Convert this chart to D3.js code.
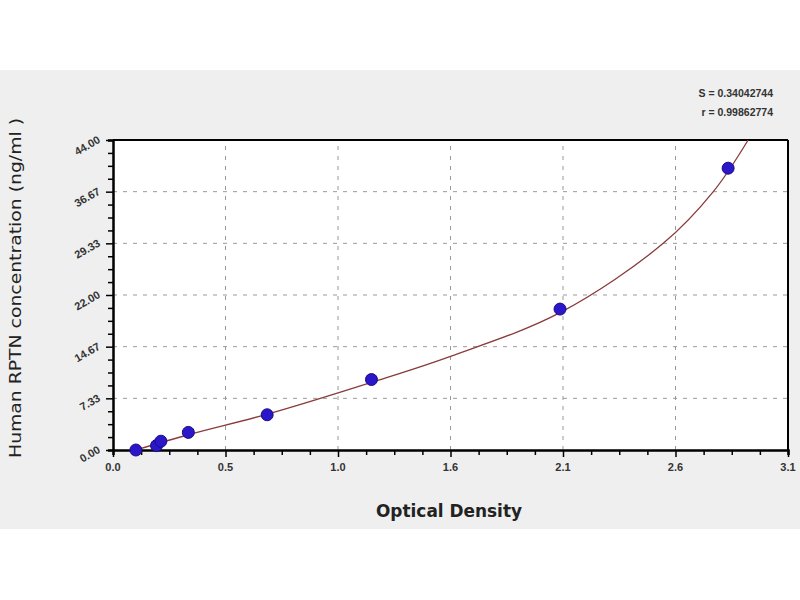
<!DOCTYPE html>
<html><head><meta charset="utf-8">
<script src="https://cdn.jsdelivr.net/npm/d3@7"></script>
<style>body{margin:0;background:#fff}svg{display:block}</style>
</head><body>
<script>
// Data
const odValues = [0.105, 0.20, 0.22, 0.346, 0.708, 1.187, 2.053, 2.825];
const concValues = [0, 0.625, 1.25, 2.5, 5, 10, 20, 40];
const curveOD = [0.105, 0.35, 0.71, 1.187, 1.55, 2.053, 2.527, 2.757, 2.917];
const curveConc = [0, 2.2, 5.1, 9.6, 13.3, 19.5, 29.33, 36.67, 44];
const xTickLabels = ["0.0","0.5","1.0","1.6","2.1","2.6","3.1"];
const yTickLabels = ["0.00","7.33","14.67","22.00","29.33","36.67","44.00"];
const statLines = ["S = 0.34042744", "r = 0.99862774"];

const W = 800, H = 600;
const m = {left:113, right:12, top:140, bottom:150};
const svg = d3.select("body").append("svg").attr("width",W).attr("height",H);
svg.append("rect").attr("x",0).attr("y",70).attr("width",W).attr("height",459).attr("fill","#efefef");

const x = d3.scaleLinear().domain([0,3.1]).range([m.left, W-m.right]);
const y = d3.scaleLinear().domain([0,44]).range([H-m.bottom, m.top]);

const xMajor = d3.range(7).map(i => i*3.1/6);
const yMajor = d3.range(7).map(i => i*44/6);
const xMinor = d3.range(25).map(i => i*3.1/24);
const yMinor = d3.range(25).map(i => i*44/24);

svg.append("rect").attr("x",x(0)).attr("y",y(44)).attr("width",x(3.1)-x(0)).attr("height",y(0)-y(44)).attr("fill","#fff");

// grid
const g = svg.append("g");
g.selectAll(".gx").data(xMajor.slice(1,-1)).join("line")
 .attr("x1",d=>x(d)).attr("x2",d=>x(d)).attr("y1",y(0)).attr("y2",y(44))
 .attr("stroke","#999").attr("stroke-width",1).attr("stroke-dasharray","4,6");
g.selectAll(".gy").data(yMajor.slice(1,-1)).join("line")
 .attr("y1",d=>y(d)).attr("y2",d=>y(d)).attr("x1",x(0)).attr("x2",x(3.1))
 .attr("stroke","#999").attr("stroke-width",1).attr("stroke-dasharray","4,6");

// frame top & right
svg.append("line").attr("x1",x(0)).attr("x2",x(3.1)).attr("y1",y(44)).attr("y2",y(44)).attr("stroke","#000").attr("stroke-width",2);
svg.append("line").attr("x1",x(3.1)).attr("x2",x(3.1)).attr("y1",y(44)).attr("y2",y(0)).attr("stroke","#000").attr("stroke-width",2);

// axes
const xAxis = svg.append("g").attr("transform",`translate(0,${y(0)})`)
 .call(d3.axisBottom(x).tickValues(xMinor).tickSize(5).tickFormat(""));
xAxis.select(".domain").attr("stroke-width",2.5);
xAxis.selectAll(".tick line").attr("stroke-width",1.5).attr("y2",d=>xMajor.some(v=>Math.abs(v-d)<1e-9)?7:5);
const xLab = svg.append("g");
xLab.selectAll("text").data(xMajor).join("text")
 .attr("x",d=>x(d)).attr("y",y(0)+21).attr("text-anchor","middle")
 .attr("font-family","Liberation Sans, Arial, sans-serif").attr("font-size",11).attr("font-weight","bold").attr("fill","#333")
 .text((d,i)=>xTickLabels[i]);

const yAxis = svg.append("g").attr("transform",`translate(${x(0)},0)`)
 .call(d3.axisLeft(y).tickValues(yMinor).tickSize(5).tickFormat(""));
yAxis.select(".domain").attr("stroke-width",2.5);
yAxis.selectAll(".tick line").attr("stroke-width",1.5).attr("x2",d=>yMajor.some(v=>Math.abs(v-d)<1e-9)?-7:-5);
const yLab = svg.append("g");
yLab.selectAll("text").data(yMajor).join("text")
 .attr("transform",d=>`translate(${x(0)-12},${y(d)+2}) rotate(-30)`).attr("text-anchor","end")
 .attr("font-family","Liberation Sans, Arial, sans-serif").attr("font-size",11).attr("font-weight","bold").attr("fill","#333")
 .text((d,i)=>yTickLabels[i]);

// curve
const curveData = curveOD.map((d,i)=>[d,curveConc[i]]);
svg.append("path").datum(curveData)
 .attr("d",d3.line().x(d=>x(d[0])).y(d=>y(d[1])).curve(d3.curveCatmullRom.alpha(0.5)))
 .attr("fill","none").attr("stroke","#8a3b3b").attr("stroke-width",1.3);

// points
const pts = odValues.map((d,i)=>[d,concValues[i]]);
svg.append("g").selectAll("circle").data(pts).join("circle")
 .attr("cx",d=>x(d[0])).attr("cy",d=>y(d[1])).attr("r",6)
 .attr("fill","#2b17c9").attr("stroke","#1a0e80").attr("stroke-width",1);

// titles
svg.append("text").attr("x",449).attr("y",517).attr("text-anchor","middle")
 .attr("font-family","DejaVu Sans, sans-serif").attr("font-size",17).attr("font-weight","bold").attr("fill","#222")
 .attr("textLength",146).attr("lengthAdjust","spacingAndGlyphs")
 .text("Optical Density");
svg.append("text").attr("transform","translate(21,288) rotate(-90)").attr("text-anchor","middle")
 .attr("font-family","DejaVu Sans, sans-serif").attr("font-size",16).attr("fill","#222")
 .attr("textLength",340).attr("lengthAdjust","spacingAndGlyphs")
 .text("Human RPTN concentration (ng/ml )");

svg.append("g").selectAll("text").data(statLines).join("text")
 .attr("x",773).attr("y",(d,i)=>97+i*19).attr("text-anchor","end")
 .attr("font-family","Liberation Sans, Arial, sans-serif").attr("font-size",10.5).attr("font-weight","bold").attr("fill","#333")
 .text(d=>d);
</script>
</body></html>
